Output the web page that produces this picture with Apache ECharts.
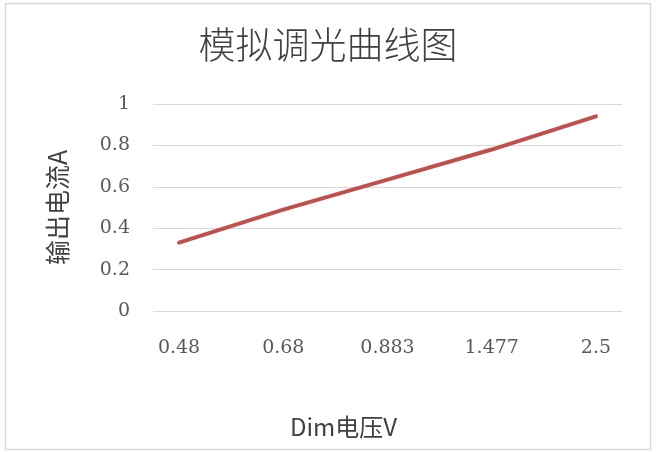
<!DOCTYPE html>
<html>
<head>
<meta charset="utf-8">
<script src="https://cdn.jsdelivr.net/npm/echarts@6/dist/echarts.min.js"></script>
<style>
html,body{margin:0;padding:0;background:#fff;}
#c{width:656px;height:452px;}
</style>
</head>
<body>
<div id="c"></div>
<script>
const title = '模拟调光曲线图';
const xTitle = 'Dim电压V';
const yTitle = '输出电流A';
const categories = ['0.48', '0.68', '0.883', '1.477', '2.5'];
const currentValues = [0.33, 0.49, 0.635, 0.78, 0.94];
const yTicks = [0, 0.2, 0.4, 0.6, 0.8, 1];

const chart = echarts.init(document.getElementById('c'), null, {renderer: 'canvas'});
const catIdx = categories.map((_, i) => i);
chart.setOption({
  animation: false,
  backgroundColor: '#fff',
  graphic: [{
    type: 'rect',
    shape: {x: 5.5, y: 3.5, width: 645, height: 446},
    style: {fill: 'none', stroke: '#d9d9d9', lineWidth: 1.5},
    silent: true
  }],
  title: {
    text: title,
    left: 'center',
    top: 21,
    textStyle: {
      fontFamily: 'Noto Sans CJK SC',
      fontWeight: 300,
      fontSize: 37,
      color: '#404040'
    }
  },
  grid: {left: 153, right: 34, top: 104, bottom: 141, containLabel: false},
  xAxis: {
    type: 'value',
    min: -0.25,
    max: categories.length - 0.75,
    name: xTitle,
    nameLocation: 'middle',
    nameGap: 104,
    nameTextStyle: {fontFamily: 'Noto Sans CJK SC', fontSize: 24, color: '#404040', padding: [0, 88, 0, 0]},
    axisLine: {show: false},
    axisTick: {show: false},
    splitLine: {show: false},
    axisLabel: {
      customValues: catIdx,
      formatter: v => categories[Math.round(v)],
      fontFamily: 'DejaVu Serif',
      fontSize: 19,
      color: '#595959',
      margin: 28
    }
  },
  yAxis: {
    type: 'value',
    min: 0,
    max: 1,
    interval: 0.2,
    name: yTitle,
    nameLocation: 'middle',
    nameGap: 83,
    nameRotate: 90,
    nameTextStyle: {fontFamily: 'Noto Sans CJK SC', fontSize: 25, color: '#404040'},
    axisLine: {show: false},
    axisTick: {show: false},
    splitLine: {show: true, lineStyle: {color: '#d9d9d9', width: 1.2}},
    axisLabel: {
      formatter: v => (v === 0 || v === 1) ? String(v) : v.toFixed(1),
      fontFamily: 'DejaVu Serif',
      fontSize: 19,
      color: '#595959',
      margin: 23
    }
  },
  series: [{
    type: 'line',
    data: catIdx.map(i => [i, currentValues[i]]),
    showSymbol: false,
    symbol: 'none',
    lineStyle: {color: '#c0504d', width: 4, cap: 'round', join: 'round'},
    itemStyle: {color: '#c0504d'}
  }]
});
</script>
</body>
</html>
